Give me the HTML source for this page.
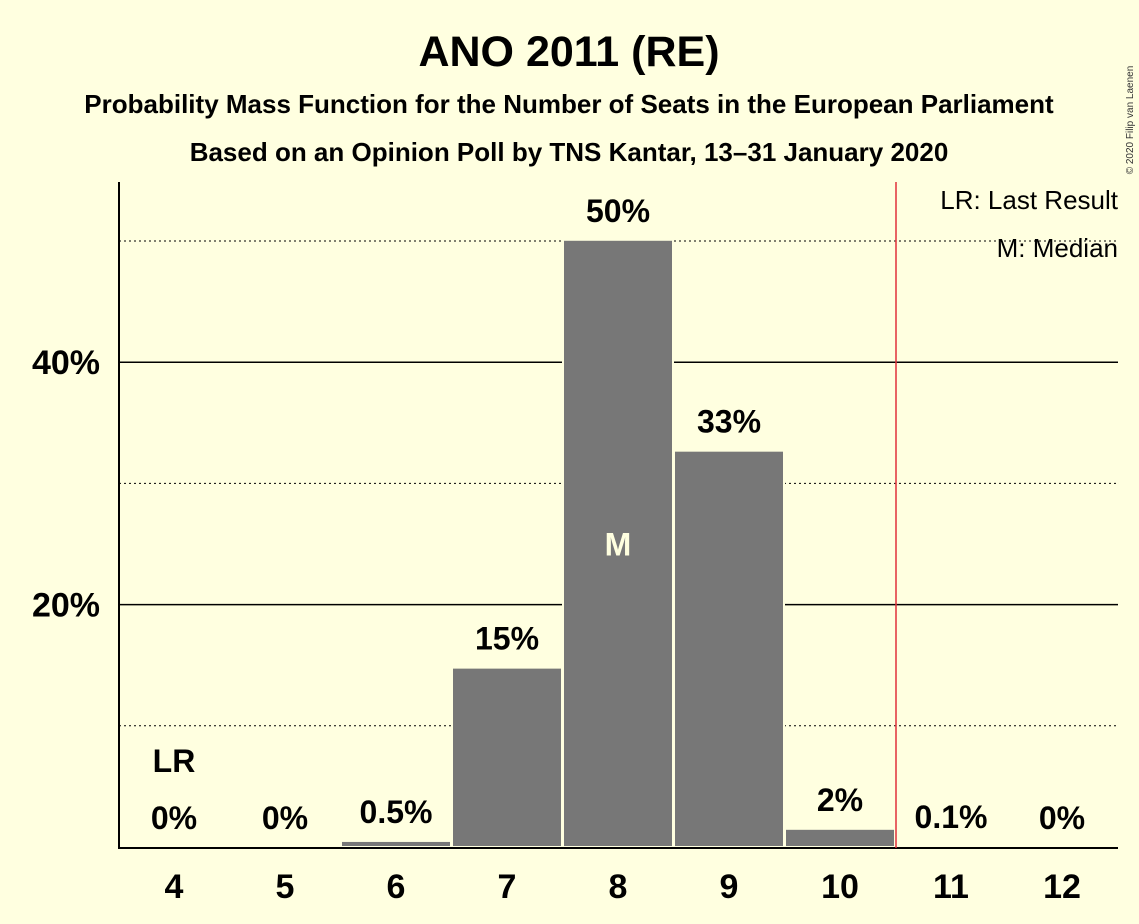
<!DOCTYPE html>
<html><head><meta charset="utf-8"><style>
body{margin:0;background:#FFFFE0;}
svg{display:block;font-family:"Liberation Sans",sans-serif;}
</style></head><body>
<svg width="1139" height="924">
<rect width="1139" height="924" fill="#FFFFE0"/>
<text x="569" y="66" text-anchor="middle" font-size="43" font-weight="bold">ANO 2011 (RE)</text>
<text x="569" y="113" text-anchor="middle" font-size="26" font-weight="bold">Probability Mass Function for the Number of Seats in the European Parliament</text>
<text x="569" y="161" text-anchor="middle" font-size="26" font-weight="bold">Based on an Opinion Poll by TNS Kantar, 13–31 January 2020</text>
<text x="1133" y="120" font-size="10" transform="rotate(-90 1133 120)" text-anchor="middle" fill="#333">© 2020 Filip van Laenen</text>
<g id="grid"></g><g id="bars"></g><g id="labels"></g>
<line x1="119" y1="182" x2="119" y2="848" stroke="#000" stroke-width="2"/>
<line x1="118" y1="848" x2="1118" y2="848" stroke="#000" stroke-width="2"/>
<line x1="896" y1="182" x2="896" y2="848" stroke="#e0303a" stroke-width="1.5"/>
<text x="1118" y="209" text-anchor="end" font-size="26">LR: Last Result</text>
<text x="1118" y="257" text-anchor="end" font-size="26">M: Median</text>
</svg>
<script>
const categories=[4,5,6,7,8,9,10,11,12];
const values=[0,0,0.5,14.8,50.1,32.7,1.5,0.1,0];
const valueLabels=["0%","0%","0.5%","15%","50%","33%","2%","0.1%","0%"];
const yTicks=[20,40];
const yMinor=[10,30,50];
const medianIndex=4, lastResultIndex=0;
const NS="http://www.w3.org/2000/svg";
const x=c=>174+(c-4)*111;
const y=v=>847-v*12.12;
function mk(t,a,p){const e=document.createElementNS(NS,t);for(const k in a)e.setAttribute(k,a[k]);p.appendChild(e);return e;}
const g=document.getElementById('grid'),b=document.getElementById('bars'),l=document.getElementById('labels');
yMinor.forEach(v=>{const e=mk('line',{x1:119,x2:1118,y1:y(v),y2:y(v),stroke:'#000','stroke-width':1,'stroke-dasharray':'2,3'},g);

});
yTicks.forEach(v=>{const e=mk('line',{x1:119,x2:1118,y1:y(v),y2:y(v),stroke:'#000','stroke-width':1.5},g);


const t=mk('text',{x:100,y:y(v)+12,'text-anchor':'end','font-size':34,'font-weight':'bold'},g);t.textContent=v+'%';

});
categories.forEach((c,i)=>{
const v=values[i];
if(v>0){const r=mk('rect',{x:x(c)-55,y:y(v),width:110,height:847-y(v),fill:'#777',stroke:'#FFFFE0','stroke-width':2},b);

}
const t=mk('text',{x:x(c),y:Math.min(y(v),847)-18,'text-anchor':'middle','font-size':32,'font-weight':'bold'},l);t.textContent=valueLabels[i];


const xt=mk('text',{x:x(c),y:898,'text-anchor':'middle','font-size':34,'font-weight':'bold'},l);xt.textContent=c;


if(i===medianIndex){const m=mk('text',{x:x(c),y:y(v/2)+12,'text-anchor':'middle','font-size':32,'font-weight':'bold',fill:'#FFFFE0'},l);m.textContent='M';

}
if(i===lastResultIndex){const m=mk('text',{x:x(c),y:772,'text-anchor':'middle','font-size':32,'font-weight':'bold'},l);m.textContent='LR';

}
});
</script>
</body></html>
